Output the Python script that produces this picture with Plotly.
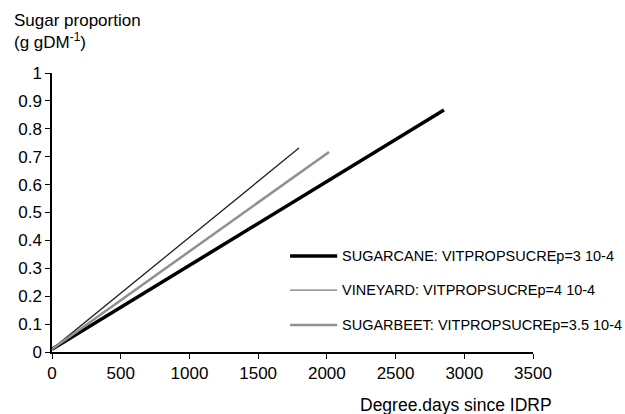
import plotly.graph_objects as go

# Data
sugarcane_x = [0, 2852]
sugarcane_y = [0.01, 0.867]
vineyard_x = [0, 1797]
vineyard_y = [0.01, 0.731]
sugarbeet_x = [0, 2016]
sugarbeet_y = [0.01, 0.717]

names = [
    "SUGARCANE: VITPROPSUCREp=3 10-4",
    "VINEYARD: VITPROPSUCREp=4 10-4",
    "SUGARBEET: VITPROPSUCREp=3.5 10-4",
]

x_ticks = [0, 500, 1000, 1500, 2000, 2500, 3000, 3500]
y_ticks = [0, 0.1, 0.2, 0.3, 0.4, 0.5, 0.6, 0.7, 0.8, 0.9, 1]
y_labels = ["0", "0.1", "0.2", "0.3", "0.4", "0.5", "0.6", "0.7", "0.8", "0.9", "1"]

font = "Liberation Sans, Arial, sans-serif"

styles = [
    dict(color="black", width=3.5),
    dict(color="#222222", width=1.3),
    dict(color="#909090", width=2.5),
]

fig = go.Figure()
for xs, ys, nm, st in zip([sugarcane_x, vineyard_x, sugarbeet_x],
                          [sugarcane_y, vineyard_y, sugarbeet_y], names, styles):
    fig.add_trace(go.Scatter(x=xs, y=ys, mode="lines", name=nm, line=st, showlegend=False))

# Manual legend (paper coordinates)
legend_rows = [0.344, 0.222, 0.097]
legend_line_x0, legend_line_x1, legend_text_x = 0.495, 0.593, 0.598
legend_styles = [
    dict(color="black", width=3.5),
    dict(color="#777777", width=1.3),
    dict(color="#909090", width=2.5),
]
shapes = []
annotations = []
for yy, nm, st in zip(legend_rows, names, legend_styles):
    shapes.append(dict(type="line", xref="paper", yref="paper", x0=legend_line_x0, x1=legend_line_x1,
                       y0=yy, y1=yy, line=st))
    annotations.append(dict(text=nm, xref="paper", yref="paper", x=legend_text_x, y=yy,
                            xanchor="left", yanchor="middle", showarrow=False,
                            font=dict(size=14.5, family=font)))

annotations += [
    dict(text="Sugar proportion<br>(g gDM<sup>-1</sup>)", xref="paper", yref="paper",
         x=-0.083, y=1.23, xanchor="left", yanchor="top", showarrow=False, align="left",
         font=dict(size=17, family=font)),
    dict(text="Degree.days since IDRP", xref="paper", yref="paper",
         x=1.044, y=-0.148, xanchor="right", yanchor="top", showarrow=False,
         font=dict(size=17.5, family=font)),
]

fig.update_layout(
    width=625, height=414,
    margin=dict(l=52, r=92, t=73, b=62, autoexpand=False),
    paper_bgcolor="white", plot_bgcolor="white",
    font=dict(family=font, size=17, color="black"),
    showlegend=False,
    xaxis=dict(range=[0, 3500], tickvals=x_ticks, ticktext=[str(v) for v in x_ticks],
               showgrid=False, zeroline=False, showline=True, linecolor="black", linewidth=1.5,
               ticks="outside", ticklen=5, tickcolor="black", tickwidth=1,
               tickfont=dict(size=17, family=font)),
    yaxis=dict(range=[0, 1], tickvals=y_ticks, ticktext=y_labels,
               showgrid=False, zeroline=False, showline=True, linecolor="black", linewidth=1.5,
               ticks="outside", ticklen=5, tickcolor="black", tickwidth=1,
               tickfont=dict(size=17, family=font)),
    shapes=shapes,
    annotations=annotations,
)

fig.write_html("out.html")
